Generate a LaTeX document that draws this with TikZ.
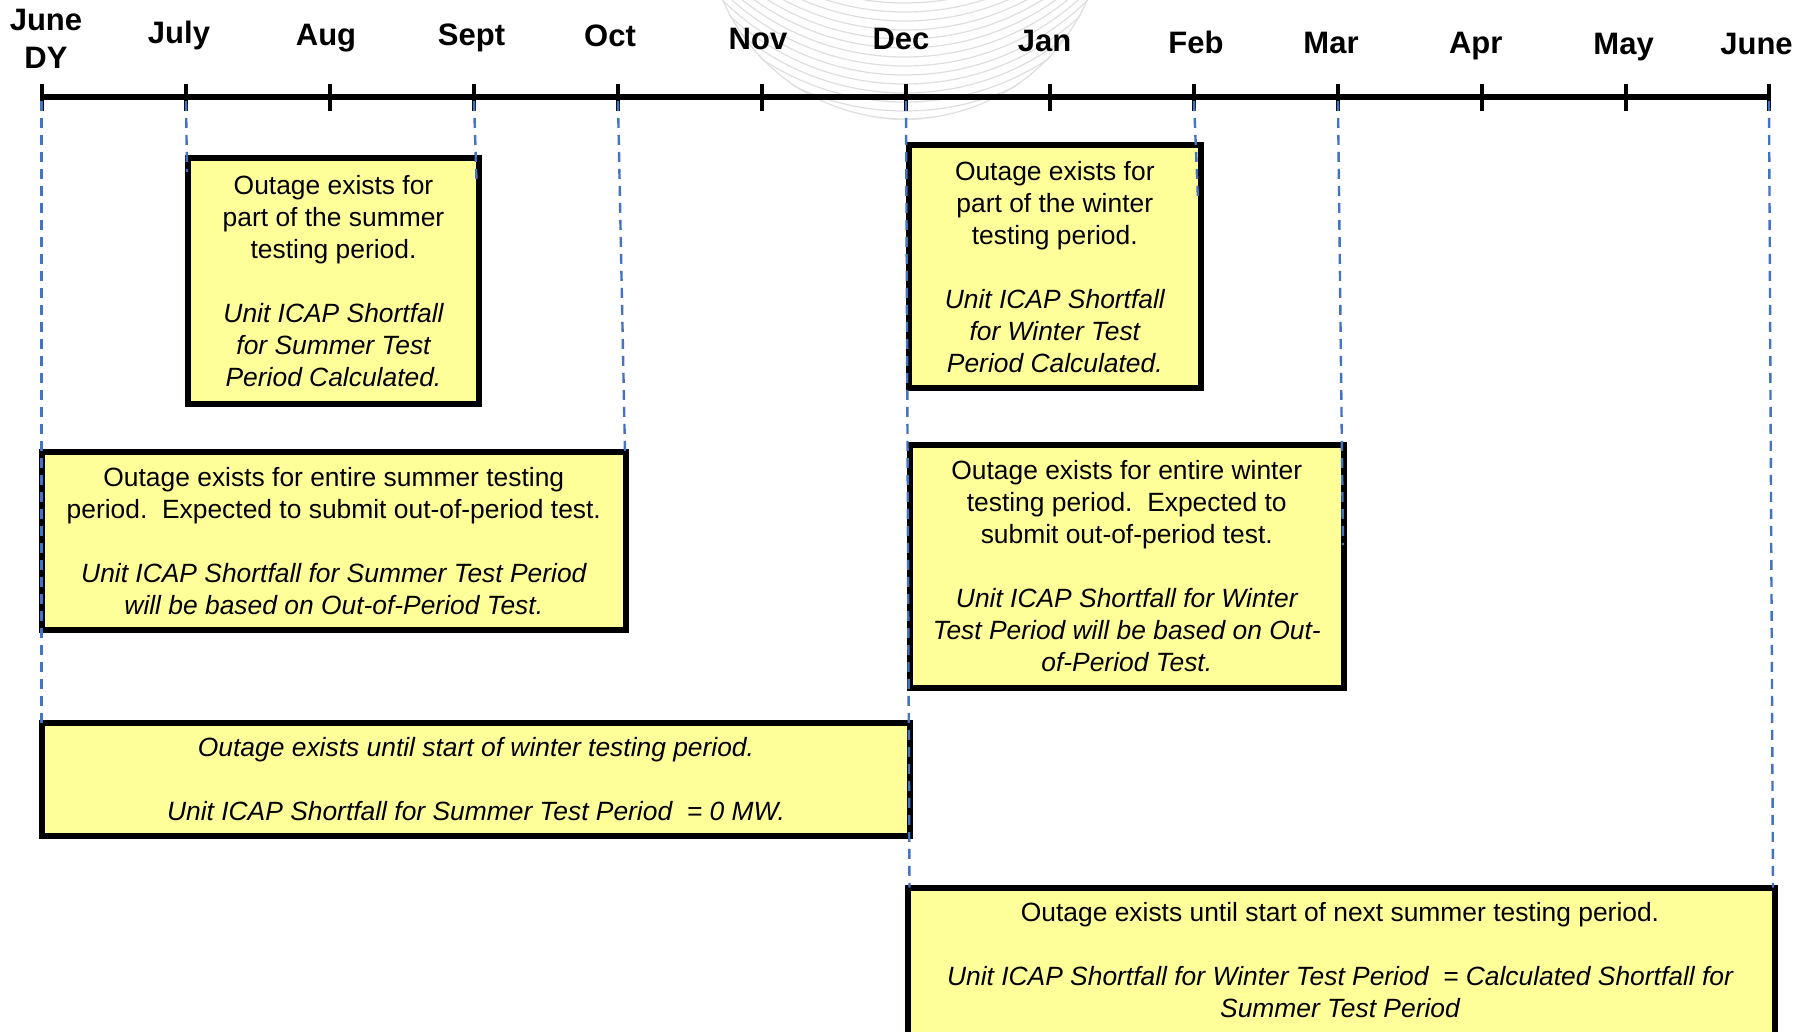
\documentclass[tikz,border=0pt]{standalone}
\usepackage{fontspec}
\setmainfont{Liberation Sans}
\definecolor{boxfill}{HTML}{FFFF99}
\definecolor{guideblue}{HTML}{4472C4}
\begin{document}
\begin{tikzpicture}[x=0.5pt,y=-0.5pt,
  month/.style={font=\bfseries\fontsize{15.5}{19}\selectfont, anchor=base, align=center, inner sep=0pt},
  tickmark/.style={line width=2pt},
  axis/.style={line width=3pt},
  guide/.style={guideblue, line width=1.2pt, dash pattern=on 5pt off 3.5pt},
  box/.style={draw=black, fill=boxfill, line width=3pt, inner sep=0pt, align=center,
              font=\fontsize{13.2}{16}\selectfont},
  boxtext/.style={inner sep=0pt, align=center, font=\fontsize{13.2}{16}\selectfont},
  wm/.style={black!13, line width=0.6pt}]

\useasboundingbox (0,0) rectangle (1812,1032);
\clip (0,0) rectangle (1812,1032);

% faint globe watermark behind the axis
\begin{scope}
  \clip (905,-80) circle[radius=200];
  \foreach \k in {0,...,18}
    \draw[wm] (905,{120-9*\k-260}) circle[radius=260];
  \draw[wm] (905,-80) circle[radius=199];
\end{scope}

% month positions on the axis
\coordinate (tJun0) at (41.6,97);
\coordinate (tJul)  at (186,97);
\coordinate (tAug)  at (330,97);
\coordinate (tSep)  at (474,97);
\coordinate (tOct)  at (618,97);
\coordinate (tNov)  at (762,97);
\coordinate (tDec)  at (906,97);
\coordinate (tJan)  at (1050,97);
\coordinate (tFeb)  at (1194,97);
\coordinate (tMar)  at (1338,97);
\coordinate (tApr)  at (1482,97);
\coordinate (tMay)  at (1626,97);
\coordinate (tJun1) at (1769,97);

% month labels
\node[month] (lJun0) at (46,68.8) {June\\DY};
\node[month] (lJul)  at (179,43.4) {July};
\node[month] (lAug)  at (326,45.7) {Aug};
\node[month] (lSep)  at (471.5,45.7) {Sept};
\node[month] (lOct)  at (610,46.8) {Oct};
\node[month] (lNov)  at (758,49.1) {Nov};
\node[month] (lDec)  at (901,49.1) {Dec};
\node[month] (lJan)  at (1044.6,51.4) {Jan};
\node[month] (lFeb)  at (1196,53.8) {Feb};
\node[month] (lMar)  at (1331,53.8) {Mar};
\node[month] (lApr)  at (1475.7,53.8) {Apr};
\node[month] (lMay)  at (1623.6,54.9) {May};
\node[month] (lJun1) at (1756.5,54.9) {June};

% axis and ticks
\draw[axis] (tJun0) -- (tJun1);
\foreach \t in {tJun0,tJul,tAug,tSep,tOct,tNov,tDec,tJan,tFeb,tMar,tApr,tMay,tJun1}
  \draw[tickmark] ([yshift=6.5pt]\t) -- ([yshift=-7pt]\t);

% outage boxes
\node[box, minimum width=145.5pt, minimum height=122.75pt] (sumPart) at (333.5,281)
  {Outage exists for\\part of the summer\\testing period.\\[16pt]
   \itshape Unit ICAP Shortfall\\\itshape for Summer Test\\\itshape Period Calculated.};

\node[box, minimum width=292.2pt, minimum height=88.75pt] (sumAll) at (333.8,540.75)
  {Outage exists for entire summer testing\\period.\ \ Expected to submit out-of-period test.\\[16pt]
   \itshape Unit ICAP Shortfall for Summer Test Period\\\itshape will be based on Out-of-Period Test.};

\node[box, minimum width=434.35pt, minimum height=56.5pt] (sumToWin) at (476,779)
  {\itshape Outage exists until start of winter testing period.\\[16pt]
   \itshape Unit ICAP Shortfall for Summer Test Period\ \ = 0 MW.};

\node[box, minimum width=145.8pt, minimum height=121.25pt] (winPart) at (1054.8,266.75)
  {Outage exists for\\part of the winter\\testing period.\\[16pt]
   \itshape Unit ICAP Shortfall\\\itshape for Winter Test\\\itshape Period Calculated.};

\node[box, minimum width=216.75pt, minimum height=121.75pt] (winAll) at (1126.75,566.5)
  {Outage exists for entire winter\\testing period.\ \ Expected to\\submit out-of-period test.\\[16pt]
   \itshape Unit ICAP Shortfall for Winter\\\itshape Test Period will be based on Out-\\\itshape of-Period Test.};

% this box runs past the lower edge, so its text is set on its own
\node[box, minimum width=433.3pt, minimum height=76.25pt] (winToSum) at (1341.3,963.75) {};
\node[boxtext] (winToSumText) at (1340,960)
  {Outage exists until start of next summer testing period.\\[16pt]
   \itshape Unit ICAP Shortfall for Winter Test Period\ \ = Calculated Shortfall for\\\itshape Summer Test Period};

% dashed guides from the month ticks down to the box edges
\coordinate (gJun0) at (41.6,722.5);
\coordinate (gJul)  at (187,172);
\coordinate (gSep)  at (476.5,180);
\coordinate (gOct)  at (625,452);
\coordinate (gDec)  at (909.5,887.5);
\coordinate (gFeb)  at (1198,200);
\coordinate (gMar)  at (1343,545);
\coordinate (gJun1) at (1773,887.5);
\draw[guide] ([yshift=-2pt]tJun0) -- (gJun0);
\draw[guide] ([yshift=-2pt]tJul)  -- (gJul);
\draw[guide] ([yshift=-2pt]tSep)  -- (gSep);
\draw[guide] ([yshift=-2pt]tOct)  -- (gOct);
\draw[guide] ([yshift=-2pt]tDec)  -- (gDec);
\draw[guide] ([yshift=-2pt]tFeb)  -- (gFeb);
\draw[guide] ([yshift=-2pt]tMar)  -- (gMar);
\draw[guide] ([yshift=-2pt]tJun1) -- (gJun1);

\end{tikzpicture}
\end{document}
